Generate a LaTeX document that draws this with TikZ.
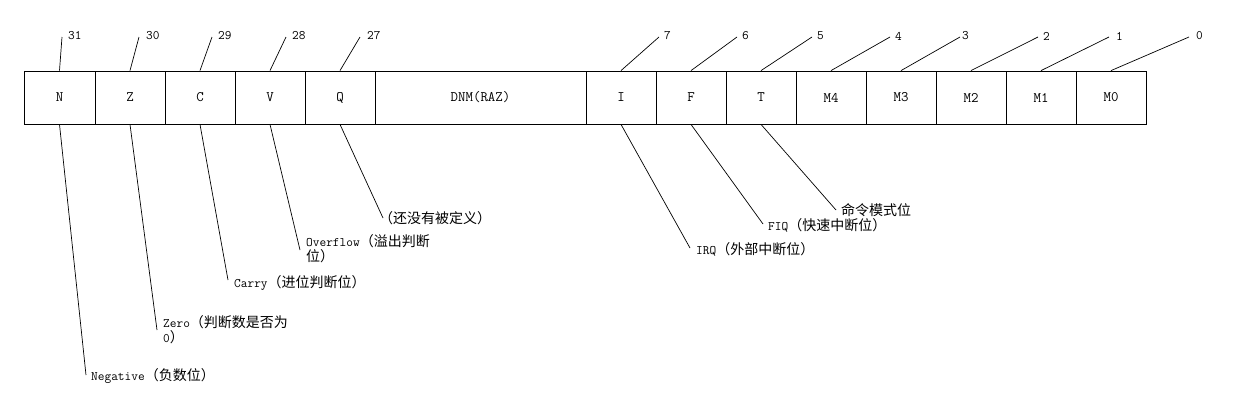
\documentclass[tikz,border=0pt]{standalone}
\usepackage{fontspec}
\newfontfamily\cjk{Noto Sans CJK SC}
\newcommand{\zh}[1]{{\cjk\fontsize{14}{15}\selectfont #1}}
\begin{document}
\begin{tikzpicture}[x=1pt,y=-1pt,
  cell/.style={draw, line width=0.8pt, inner sep=0pt, minimum height=53pt, font=\ttfamily\fontsize{14.5}{16}\selectfont},
  num/.style={inner sep=0pt, anchor=west, font=\ttfamily\fontsize{13}{15}\selectfont},
  lbl/.style={inner sep=0pt, anchor=west, font=\ttfamily\fontsize{13}{15}\selectfont},
  lead/.style={line width=0.7pt}]
\useasboundingbox[fill=white] (0,0) rectangle (1248,410);
% register cells
\node[cell, minimum width=71pt] (N) at (59.5,97.5) {N};
\node[cell, minimum width=70pt] (Z) at (130,97.5) {Z};
\node[cell, minimum width=70pt] (C) at (200,97.5) {C};
\node[cell, minimum width=70pt] (V) at (270,97.5) {V};
\node[cell, minimum width=70pt] (Q) at (340,97.5) {Q};
\node[cell, minimum width=211pt] (DNM) at (480.5,97.5) {DNM(RAZ)};
\node[cell, minimum width=70pt] (I) at (621,97.5) {I};
\node[cell, minimum width=70pt] (F) at (691,97.5) {F};
\node[cell, minimum width=70pt] (T) at (761,97.5) {T};
\node[cell, minimum width=70pt] (M4) at (831,97.5) {M4};
\node[cell, minimum width=70pt] (M3) at (901,97.5) {M3};
\node[cell, minimum width=70pt] (M2) at (971,97.5) {M2};
\node[cell, minimum width=70pt] (M1) at (1041,97.5) {M1};
\node[cell, minimum width=70pt] (M0) at (1111,97.5) {M0};
% top bit numbers
\coordinate (t31) at (62,37);   \node[num] (n31) at (68,36) {31};
\coordinate (t30) at (139,37);  \node[num] (n30) at (146,36) {30};
\coordinate (t29) at (212,37);  \node[num] (n29) at (218,36) {29};
\coordinate (t28) at (286,37);  \node[num] (n28) at (292,36) {28};
\coordinate (t27) at (360,37);  \node[num] (n27) at (367,36) {27};
\coordinate (t7) at (659,37);   \node[num] (n7) at (664,36) {7};
\coordinate (t6) at (737,37);   \node[num] (n6) at (742,36) {6};
\coordinate (t5) at (812,37);   \node[num] (n5) at (817,36) {5};
\coordinate (t4) at (890,37);   \node[num] (n4) at (895,36) {4};
\coordinate (t3) at (960,37);   \node[num] (n3) at (962,36) {3};
\coordinate (t2) at (1038,37);  \node[num] (n2) at (1043,36) {2};
\coordinate (t1) at (1109,37);  \node[num] (n1) at (1116,36) {1};
\coordinate (t0) at (1189,37);  \node[num] (n0) at (1196,36) {0};
\foreach \c/\t in {N/t31,Z/t30,C/t29,V/t28,Q/t27,I/t7,F/t6,T/t5,M4/t4,M3/t3,M2/t2,M1/t1,M0/t0}
  \draw[lead] (\c.north) -- (\t);
% bottom descriptions
\coordinate (bN) at (86,375);
\coordinate (bZ) at (157,330);
\coordinate (bC) at (228,280);
\coordinate (bV) at (300,250);
\coordinate (bQ) at (383,218);
\coordinate (bI) at (690,248);
\coordinate (bF) at (763,224);
\coordinate (bT) at (836,210);
\foreach \c/\b in {N/bN,Z/bZ,C/bC,V/bV,Q/bQ,I/bI,F/bF,T/bT}
  \draw[lead] (\c.south) -- (\b);
\node[lbl] (lN) at (91,376) {Negative\zh{（负数位）}};
\node[lbl, align=left, anchor=north west] (lZ) at (163,315) {Zero\zh{（判断数是否为}\\0\zh{）}};
\node[lbl] (lC) at (234,283) {Carry\zh{（进位判断位）}};
\node[lbl, align=left, anchor=north west] (lV) at (306,234) {Overflow\zh{（溢出判断}\\\zh{位）}};
\node[lbl] (lQ) at (379,218) {\zh{（还没有被定义）}};
\node[lbl] (lI) at (696,249) {IRQ\zh{（外部中断位）}};
\node[lbl] (lF) at (768,225) {FIQ\zh{（快速中断位）}};
\node[lbl] (lT) at (841,210) {\zh{命令模式位}};
\end{tikzpicture}
\end{document}
